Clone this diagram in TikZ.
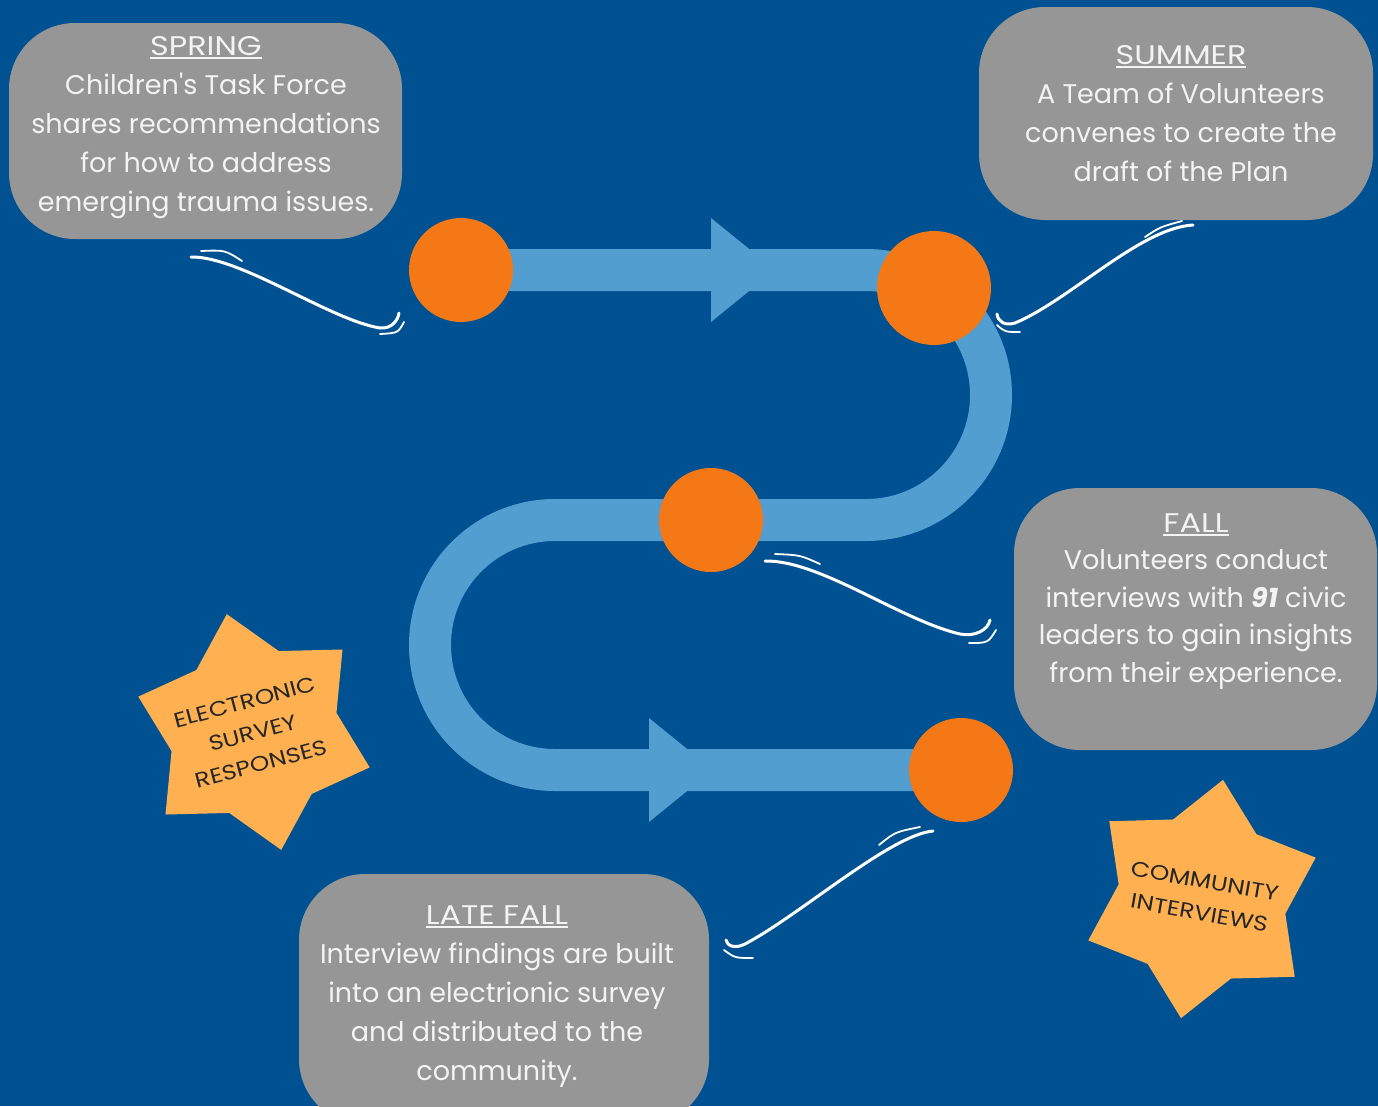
\documentclass[tikz,border=0pt]{standalone}
\usepackage{fontspec}
\setmainfont{Poppins}[Ligatures=TeXOff]
\newfontfamily\widefont{Poppins}[FakeStretch=1.18]
\usetikzlibrary{shapes,positioning,calc}

\definecolor{planblue}{RGB}{0,81,145}
\definecolor{trackblue}{RGB}{83,158,208}
\definecolor{dotorange}{RGB}{244,121,22}
\definecolor{boxgray}{RGB}{150,150,150}
\definecolor{burstgold}{RGB}{255,176,80}
\definecolor{softwhite}{RGB}{243,243,243}

\newsavebox{\headbox}
\newcommand{\seasonhead}[1]{\sbox{\headbox}{\widefont #1}\rlap{\rule[-3.5pt]{\wd\headbox}{1.4pt}}\usebox{\headbox}}

\begin{document}
\begin{tikzpicture}[x=1pt, y=-1pt,
    season/.style={fill=boxgray, rounded corners=66pt, inner sep=0pt},
    seasontext/.style={text=softwhite, align=center, inner sep=0pt, anchor=north,
        font=\fontsize{27}{39}\selectfont},
    milestone/.style={circle, fill=dotorange, inner sep=0pt},
    burst/.style={star, star points=6, star point ratio=1.43, minimum size=242pt,
        inner sep=0pt, fill=burstgold},
    bursttext/.style={text=black!85, align=center, inner sep=0pt,
        font=\widefont\fontsize{21}{32}\selectfont},
    swirl/.style={draw=white, line width=3pt, line cap=round},
    flick/.style={draw=white, line width=1.8pt, line cap=round}]
    % Background
    \fill[planblue] (0,0) rectangle (1378,1106);
    \useasboundingbox (0,0) rectangle (1378,1106);

    % Track
    \draw[trackblue, line width=42pt] (461,270) -- (866,270)
        arc[start angle=90, end angle=-90, radius=125pt] -- (555,520)
        arc[start angle=90, end angle=270, radius=125pt] -- (961,770);
    \foreach \ax/\ay in {711/270, 649/770} {
        \fill[trackblue] (\ax,\ay-52) -- (\ax+64,\ay) -- (\ax,\ay+52) -- cycle;
    }

    % Milestones
    \node[milestone, minimum size=104pt] (springdot) at (461,270) {};
    \node[milestone, minimum size=114pt] (summerdot) at (934,288) {};
    \node[milestone, minimum size=104pt] (falldot) at (711,520) {};
    \node[milestone, minimum size=104pt] (latedot) at (961,770) {};

    % Season boxes
    \node[season, minimum width=393pt, minimum height=216pt] (spring) at (205.5,131) {};
    \node[seasontext] (springtext) at (206,36) {\seasonhead{SPRING}\\Children's Task Force\\shares recommendations\\for how to address\\emerging trauma issues.};
    \node[season, minimum width=394pt, minimum height=213pt] (summer) at (1176,113.5) {};
    \node[seasontext] (summertext) at (1181,45) {\seasonhead{SUMMER}\\A Team of Volunteers\\convenes to create the\\draft of the Plan};
    \node[season, minimum width=363pt, minimum height=262pt] (fall) at (1195.5,619) {};
    \node[seasontext, font=\fontsize{27}{37.5}\selectfont] (falltext) at (1196,513) {\seasonhead{FALL}\\Volunteers conduct\\interviews with \textbf{\textit{91}} civic\\leaders to gain insights\\from their experience.};
    \node[season, minimum width=410pt, minimum height=251pt] (late) at (504,999.5) {};
    \node[seasontext] (latetext) at (497,905) {\seasonhead{LATE FALL}\\Interview findings are built\\into an electrionic survey\\and distributed to the\\community.};

    % Callout swirls
    \coordinate (springtail) at (191,257);
    \coordinate (springtip) at (399,313);
    \draw[swirl] (springtail) .. controls (240,256) and (330,320) .. (380,328)
        .. controls (392,329) and (398,320) .. (springtip);
    \draw[flick] (201,251) .. controls (225,250) .. (242,261);
    \draw[flick] (380,334) .. controls (398,333) .. (404,322);

    \coordinate (summertail) at (1193,225);
    \coordinate (summertip) at (997,314);
    \draw[swirl] (summertail) .. controls (1140,228) and (1070,300) .. (1015,323)
        .. controls (1005,326) and (998,322) .. (summertip);
    \draw[flick] (1145,237) .. controls (1160,227) .. (1182,221);
    \draw[flick] (997,325) .. controls (1005,332) .. (1020,332);

    \coordinate (falltail) at (765,561);
    \coordinate (falltip) at (990,620);
    \draw[swirl] (falltail) .. controls (820,560) and (900,620) .. (960,634)
        .. controls (975,637) and (988,630) .. (falltip);
    \draw[flick] (775,554) .. controls (800,555) .. (820,564);
    \draw[flick] (969,643) .. controls (988,643) .. (996,630);

    \coordinate (latetail) at (933,831);
    \coordinate (latetip) at (726,940);
    \draw[swirl] (latetail) .. controls (890,835) and (800,915) .. (745,944)
        .. controls (735,949) and (727,946) .. (latetip);
    \draw[flick] (879,845) .. controls (895,832) .. (920,827);
    \draw[flick] (724,950) .. controls (735,958) .. (753,958);

    % Bursts
    \node[burst, rotate=13] (esurvey) at (254,732) {};
    \node[bursttext, rotate=15] (esurveytext) at (253,733) {ELECTRONIC\\SURVEY\\RESPONSES};
    \node[burst, rotate=-10] (cinterviews) at (1202,899) {};
    \node[bursttext, rotate=-10] (cinterviewstext) at (1202,897) {COMMUNITY\\INTERVIEWS};
\end{tikzpicture}
\end{document}
